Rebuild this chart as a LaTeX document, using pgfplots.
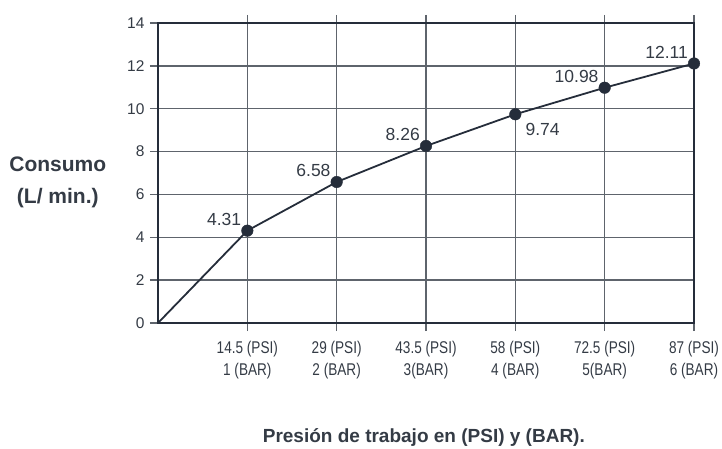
\documentclass[border=0pt]{standalone}
\usepackage{pgfplots}
\pgfplotsset{compat=1.18}
\usepackage{fontspec}
\setmainfont{Liberation Sans}
\definecolor{ink}{HTML}{252D3A}
\definecolor{gridc}{HTML}{5E646C}
\definecolor{txt}{HTML}{343B45}
\newcommand{\nar}[1]{\scalebox{0.8}[1]{#1}}
\begin{document}
\begin{tikzpicture}
\useasboundingbox (-158pt,-126pt) rectangle (564pt,323pt);
\begin{axis}[
  scale only axis, width=536pt, height=300pt,
  xmin=0, xmax=6, ymin=0, ymax=14,
  xtick={1,...,6}, ytick={0,2,...,14},
  xticklabels={
    {\nar{14.5 (PSI)}\\\nar{1 (BAR)}},
    {\nar{29 (PSI)}\\\nar{2 (BAR)}},
    {\nar{43.5 (PSI)}\\\nar{3(BAR)}},
    {\nar{58 (PSI)}\\\nar{4 (BAR)}},
    {\nar{72.5 (PSI)}\\\nar{5(BAR)}},
    {\nar{87 (PSI)}\\\nar{6 (BAR)}}},
  xtick pos=both, ytick pos=left, tick align=outside,
  major tick length=8pt,
  grid=major, grid style={gridc, line width=1.3pt},
  axis line style={ink, line width=1.3pt},
  tick style={gridc, line width=1.3pt},
  ticklabel style={txt},
  /pgf/number format/assume math mode=true,
  yticklabel style={font=\fontsize{15.5}{18}\selectfont, xshift=-2pt},
  xticklabel style={font=\fontsize{17}{22}\selectfont, align=center, yshift=-7pt},
  xlabel={Presión de trabajo en (PSI) y (BAR).},
  ylabel={Consumo\\(L/ min.)},
  xlabel style={font=\bfseries\fontsize{19}{32}\selectfont, txt,
    at={(axis description cs:0.496,-0.383)}, anchor=center},
  ylabel style={font=\bfseries\fontsize{21}{32}\selectfont, txt,
    rotate=-90, align=center, at={(axis description cs:-0.187,0.470)}, anchor=center},
  clip=false,
  every node near coord/.append style={font=\fontsize{17.5}{20}\selectfont, txt, inner sep=1pt},
]
\addplot[ink, line width=1.8pt] coordinates {
  (0,0) (1,4.31) (2,6.58) (3,8.26) (4,9.74) (5,10.98) (6,12.11)};
\addplot[only marks, mark=*, mark size=5.8pt, mark options={fill=ink, draw=ink},
  point meta=explicit symbolic, nodes near coords,
  every node near coord/.append style={anchor=south east, xshift=-5pt, yshift=4pt}]
  coordinates {(1,4.31) [4.31] (2,6.58) [6.58] (3,8.26) [8.26] (5,10.98) [10.98] (6,12.11) [12.11]};
\addplot[only marks, mark=*, mark size=5.8pt, mark options={fill=ink, draw=ink},
  point meta=explicit symbolic, nodes near coords,
  every node near coord/.append style={anchor=north west, xshift=9pt, yshift=-8pt}]
  coordinates {(4,9.74) [9.74]};
\end{axis}
\end{tikzpicture}
\end{document}
